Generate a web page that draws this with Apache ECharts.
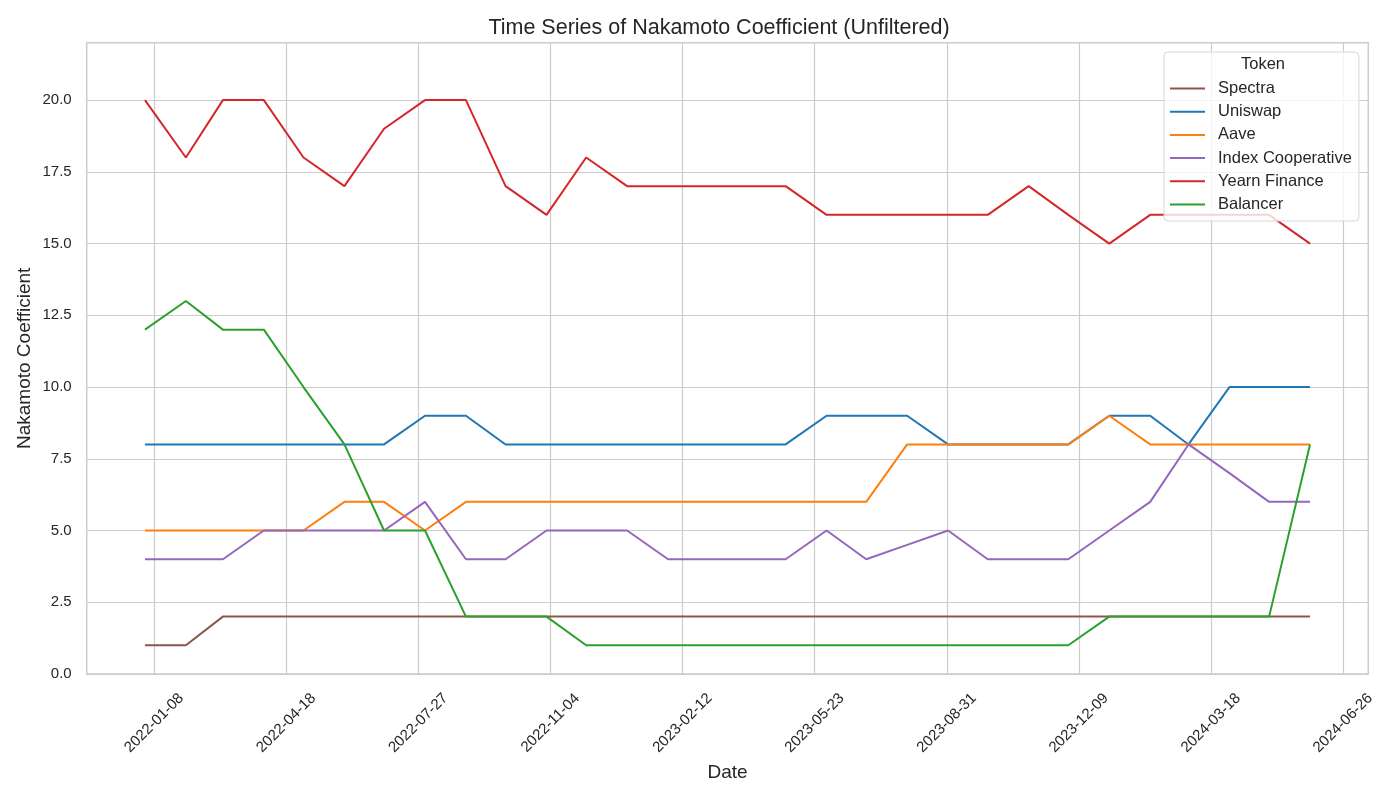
<!DOCTYPE html>
<html>
<head>
<meta charset="utf-8">
<title>Time Series of Nakamoto Coefficient</title>
<script src="https://cdn.jsdelivr.net/npm/echarts@6/dist/echarts.min.js"></script>
<style>
  html, body { margin: 0; padding: 0; background: #fff; }
  #chart { width: 1400px; height: 800px; }
</style>
</head>
<body>
<div id="chart"></div>
<script>
// monthly snapshots
var dates = [
  "2022-01-01", "2022-02-01", "2022-03-01", "2022-04-01", "2022-05-01", "2022-06-01",
  "2022-07-01", "2022-08-01", "2022-09-01", "2022-10-01", "2022-11-01", "2022-12-01",
  "2023-01-01", "2023-02-01", "2023-03-01", "2023-04-01", "2023-05-01", "2023-06-01",
  "2023-07-01", "2023-08-01", "2023-09-01", "2023-10-01", "2023-11-01", "2023-12-01",
  "2024-01-01", "2024-02-01", "2024-03-01", "2024-04-01", "2024-05-01", "2024-06-01"
];

var tokens = ["Spectra", "Uniswap", "Aave", "Index Cooperative", "Yearn Finance", "Balancer"];
var colors = ["#8c564b", "#1f77b4", "#ff7f0e", "#9467bd", "#d62728", "#2ca02c"];

var spectra = [1, 1, 2, 2, 2, 2, 2, 2, 2, 2, 2, 2, 2, 2, 2, 2, 2, 2, 2, 2, 2, 2, 2, 2, 2, 2, 2, 2, 2, 2];
var uniswap = [8, 8, 8, 8, 8, 8, 8, 9, 9, 8, 8, 8, 8, 8, 8, 8, 8, 9, 9, 9, 8, 8, 8, 8, 9, 9, 8, 10, 10, 10];
var aave = [5, 5, 5, 5, 5, 6, 6, 5, 6, 6, 6, 6, 6, 6, 6, 6, 6, 6, 6, 8, 8, 8, 8, 8, 9, 8, 8, 8, 8, 8];
var indexCoop = [4, 4, 4, 5, 5, 5, 5, 6, 4, 4, 5, 5, 5, 4, 4, 4, 4, 5, 4, 4.5, 5, 4, 4, 4, 5, 6, 8, 7, 6, 6];
var yearn = [20, 18, 20, 20, 18, 17, 19, 20, 20, 17, 16, 18, 17, 17, 17, 17, 17, 16, 16, 16, 16, 16, 17, 16, 15, 16, 16, 16, 16, 15];
var balancer = [12, 13, 12, 12, 10, 8, 5, 5, 2, 2, 2, 1, 1, 1, 1, 1, 1, 1, 1, 1, 1, 1, 1, 1, 2, 2, 2, 2, 2, 8];

// tick labels
var xTicks = ["2022-01-08", "2022-04-18", "2022-07-27", "2022-11-04", "2023-02-12",
  "2023-05-23", "2023-08-31", "2023-12-09", "2024-03-18", "2024-06-26"];
var yTicks = [0, 2.5, 5, 7.5, 10, 12.5, 15, 17.5, 20];

var values = [spectra, uniswap, aave, indexCoop, yearn, balancer];

var myChart = echarts.init(document.getElementById("chart"));

// dates -> timestamps (value axis, so custom ticks work)
function ts(d) { return +echarts.time.parse(d); }
var t0 = ts(dates[0]);
var t1 = ts(dates[dates.length - 1]);
// 5% margin on both sides, like matplotlib
var pad = (t1 - t0) * 0.05;

var font = "'Liberation Sans', Arial, sans-serif";
var textColor = "#262626";

var series = tokens.map(function (name, i) {
  return {
    name: name,
    type: "line",
    symbol: "none",
    lineStyle: { width: 2, color: colors[i] },
    itemStyle: { color: colors[i] },
    data: dates.map(function (d, j) { return [ts(d), values[i][j]]; })
  };
});

var option = {
  animation: false,
  backgroundColor: "#fff",
  textStyle: { fontFamily: font },
  title: {
    text: "Time Series of Nakamoto Coefficient (Unfiltered)",
    left: 714,
    textAlign: "center",
    top: 12,
    textStyle: { fontSize: 21.5, fontWeight: "normal", color: textColor, fontFamily: font }
  },
  legend: {
    orient: "vertical",
    left: 1164,
    top: 52,
    padding: [28, 7, 8, 6],
    // plain line as legend key
    icon: "path://M0,0H35V2H0Z",
    itemWidth: 35,
    itemHeight: 2,
    itemGap: 6.2,
    itemTextGap: 5,
    backgroundColor: "rgba(255,255,255,0.8)",
    borderColor: "#d6d6d6",
    borderWidth: 1,
    borderRadius: 4,
    // push the names a bit away from the line keys
    textStyle: { fontSize: 16.5, color: textColor, fontFamily: font, padding: [0, 0, 0, 8] },
    data: tokens
  },
  // legend title
  graphic: [{
    type: "text",
    left: 1241,
    top: 56,
    z: 100,
    style: { text: "Token", fill: textColor, font: "16.5px " + font }
  }],
  grid: {
    left: 86.7,
    right: 31.7,
    top: 42.7,
    bottom: 126,
    show: true,
    borderColor: "#cccccc",
    borderWidth: 1.5
  },
  xAxis: {
    type: "value",
    min: t0 - pad,
    max: t1 + pad,
    name: "Date",
    nameLocation: "middle",
    nameGap: 89,
    nameTextStyle: { fontSize: 19, color: textColor, fontFamily: font },
    axisLine: { show: false },
    axisTick: { show: false, customValues: xTicks.map(ts) },
    axisLabel: {
      customValues: xTicks.map(ts),
      rotate: 45,
      align: "center",
      verticalAlign: "middle",
      margin: 49,
      fontSize: 15,
      color: textColor,
      formatter: function (v) {
        return echarts.time.format(v, "{yyyy}-{MM}-{dd}", false);
      }
    },
    splitLine: { show: true, lineStyle: { color: "#cccccc", width: 1.2 } }
  },
  yAxis: {
    type: "value",
    min: 0,
    max: 22,
    name: "Nakamoto Coefficient",
    nameLocation: "middle",
    nameGap: 52,
    nameMoveOverlap: false,
    nameTextStyle: { fontSize: 19, color: textColor, fontFamily: font },
    axisLine: { show: false },
    axisTick: { show: false, customValues: yTicks },
    axisLabel: {
      customValues: yTicks,
      margin: 15,
      fontSize: 15,
      color: textColor,
      formatter: function (v) { return v.toFixed(1); }
    },
    splitLine: { show: true, lineStyle: { color: "#cccccc", width: 1.2 } }
  },
  series: series
};

myChart.setOption(option);
window.addEventListener("resize", function () {
  myChart.resize();
});
</script>
</body>
</html>
